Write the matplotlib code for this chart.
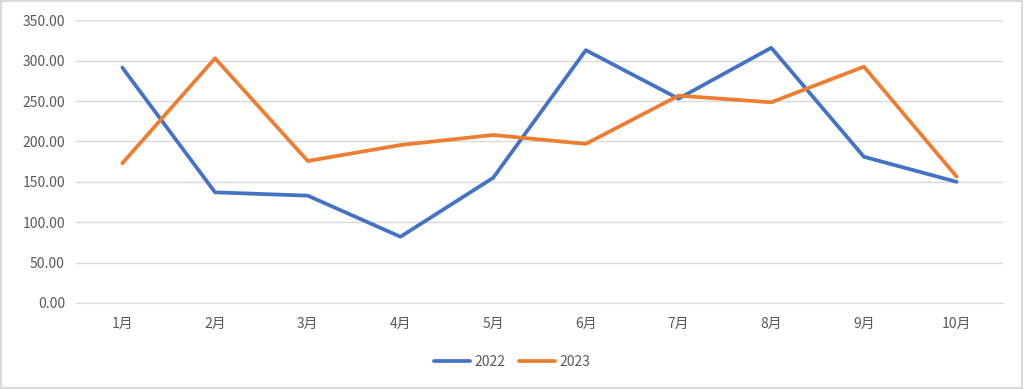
import numpy as np
import matplotlib.pyplot as plt

plt.rcParams['font.family'] = ['Noto Sans CJK SC', 'DejaVu Sans']

# 数据
months = ['1月', '2月', '3月', '4月', '5月', '6月', '7月', '8月', '9月', '10月']
y2022 = [291.4, 137.0, 132.9, 82.0, 155.0, 313.0, 253.0, 316.0, 181.0, 150.0]
y2023 = [173.0, 303.0, 175.8, 195.6, 208.0, 197.0, 256.7, 248.5, 292.6, 156.4]
yticks = [0, 50, 100, 150, 200, 250, 300, 350]

fig = plt.figure(figsize=(10.24, 3.89), dpi=100)
ax = fig.add_axes([76 / 1024, 1 - 303 / 389, 927 / 1024, 282.7 / 389])

x = np.arange(len(months))
ax.plot(x, y2022, color='#4472C4', lw=2.7, label='2022', solid_capstyle='round')
ax.plot(x, y2023, color='#ED7D31', lw=2.7, label='2023', solid_capstyle='round')

ax.set_xlim(-0.5, len(months) - 0.5)
ax.set_ylim(0, 350)
ax.set_yticks(yticks)
ax.set_yticklabels(['%.2f' % v for v in yticks])
ax.set_xticks(x)
ax.set_xticklabels(months)

ax.grid(axis='y', color='#D9D9D9', lw=1)
ax.set_axisbelow(True)
for s in ['top', 'right', 'left']:
    ax.spines[s].set_visible(False)
ax.spines['bottom'].set_color('#D9D9D9')
ax.tick_params(axis='both', length=0, labelsize=10, labelcolor='#595959')
ax.tick_params(axis='x', pad=10)
ax.tick_params(axis='y', pad=8)

fig.legend(loc='center', bbox_to_anchor=(0.5, 1 - 362 / 389), ncol=2, frameon=False,
           fontsize=10, labelcolor='#595959', handlelength=2.6, columnspacing=1.0,
           handletextpad=0.3)

# 外框
fig.patches.append(plt.Rectangle((0.001, 0.002), 0.997, 0.995, transform=fig.transFigure,
                                 fill=False, edgecolor='#D9D9D9', lw=1.5))

fig.savefig('out.png', dpi=100)
